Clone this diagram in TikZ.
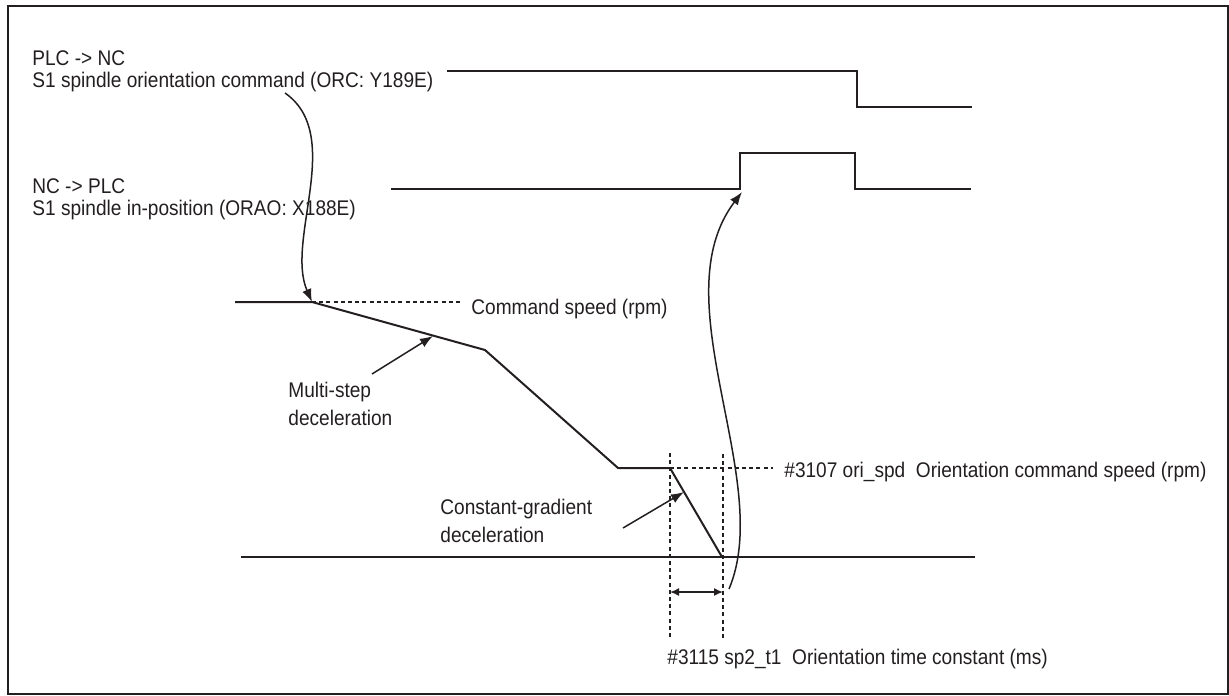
\documentclass[tikz,border=0pt]{standalone}
\usepackage{fontspec}
\setmainfont{Liberation Sans}[FakeStretch=0.9]
\usetikzlibrary{arrows.meta}
\definecolor{encre}{RGB}{35,31,32}

\begin{document}
\begin{tikzpicture}[x=0.5pt, y=-0.5pt, encre,
    signal/.style={line width=1pt},
    pointille/.style={line width=0.7pt, dash pattern=on 2pt off 1.6pt},
    fleche/.style={line width=0.75pt, -{Latex[length=6.5pt,width=4.8pt]}},
    etiq/.style={inner sep=0pt, font=\fontsize{10.6}{11}\selectfont, align=left},
    etiqb/.style={etiq, font=\fontsize{10.6}{14}\selectfont}]

    \useasboundingbox (0,0) rectangle (1229,695);
    \draw[line width=1pt] (8,6) rectangle (1228,694);

    % Labels des signaux
    \node[etiq, anchor=north west] (orc) at (32,50) {PLC -> NC\\S1 spindle orientation command (ORC: Y189E)};
    \node[etiq, anchor=north west] (orao) at (32,178) {NC -> PLC\\S1 spindle in-position (ORAO: X188E)};

    % Signaux ORC et ORAO
    \draw[signal] (447,71) -- (857,71) -- (857,107) -- (972,107);
    \draw[signal] (391,189) -- (740,189) coordinate (monte) -- (740,153) -- (855,153) -- (855,189) -- (971,189);

    % Vitesse de la broche
    \draw[signal] (235,302) -- (312,302) coordinate (debut) -- (485,350) -- (618,468)
        -- (670,468) coordinate (ori) -- (722,557) coordinate (arret);
    \draw[signal] (241,557) -- (975,557);

    % Vitesses de consigne
    \draw[pointille] (debut) -- (460,302);
    \node[etiq, anchor=base west] (vcmd) at (471,314) {Command speed (rpm)};
    \draw[pointille] (ori) -- (773,468);
    \node[etiq, anchor=base west] (vori) at (784,477) {\#3107 ori\_spd\ \ Orientation command speed (rpm)};

    % Constante de temps
    \draw[pointille] (670,453) -- (670,637);
    \draw[pointille] (723,454) -- (723,638);
    \coordinate (tg) at (670,592);
    \coordinate (td) at (723,592);
    \draw[line width=0.75pt, {Latex[length=4.5pt,width=4pt]}-{Latex[length=4.5pt,width=4pt]}] (tg) -- (td);
    \node[etiq, anchor=base west] (tcst) at (667,664) {\#3115 sp2\_t1\ \ Orientation time constant (ms)};

    % Types de deceleration
    \node[etiqb, anchor=north west] (multi) at (288,382) {Multi-step\\deceleration};
    \coordinate (multiq) at (372,374);
    \draw[fleche] (multiq) -- (433,336);
    \node[etiqb, anchor=north west] (grad) at (440,499) {Constant-gradient\\deceleration};
    \coordinate (gradq) at (623,528);
    \draw[fleche] (gradq) -- (684,492);

    % Fleches de declenchement
    \coordinate (cmdq) at (285,93);
    \draw[fleche] (cmdq) .. controls (345,135) and (285,240) .. (debut);
    \coordinate (finq) at (729,589);
    \draw[fleche] (finq) .. controls (775,480) and (660,300) .. ([shift={(2,3)}]monte);
\end{tikzpicture}
\end{document}
